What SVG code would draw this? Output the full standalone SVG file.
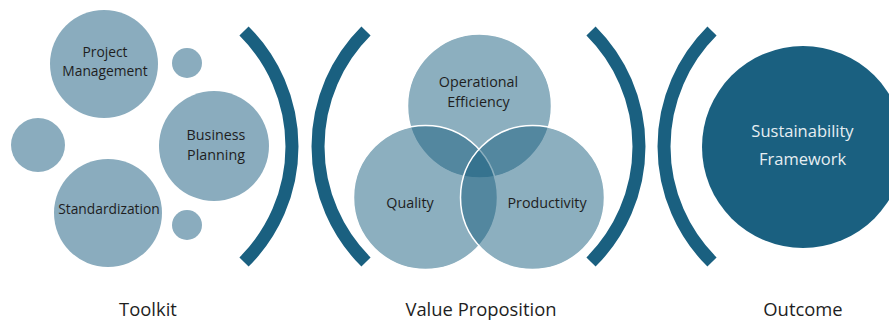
<svg xmlns="http://www.w3.org/2000/svg" width="889" height="320" viewBox="0 0 889 320">
<style>
.light{fill:#8AACBE}
.venn{fill:#1A5F80;fill-opacity:0.5;stroke:#FFFFFF;stroke-width:1.5}
.bracket{fill:none;stroke:#1A6080;stroke-width:13}
.lbl{font-family:"Open Sans","Liberation Sans",sans-serif;font-size:14.3px;fill:#1E1E1E;text-anchor:middle}
.sm{font-size:13.8px}
.big{font-family:"Open Sans","Liberation Sans",sans-serif;font-size:16.5px;fill:#E6EEF2;text-anchor:middle}
.foot{font-family:"Open Sans","Liberation Sans",sans-serif;font-size:18.4px;fill:#1E1E1E;text-anchor:middle}
</style>
<rect width="889" height="320" fill="#FFFFFF"/>
<g id="toolkit">
  <g id="project-management"><circle class="light" cx="104" cy="64" r="54"/><text class="lbl sm" x="105" y="57">Project</text><text class="lbl sm" x="105" y="76">Management</text></g>
  <g id="dot-top"><circle class="light" cx="187" cy="63" r="15"/></g>
  <g id="dot-left"><circle class="light" cx="38" cy="145" r="27"/></g>
  <g id="business-planning"><circle class="light" cx="214" cy="146" r="55"/><text class="lbl" x="216" y="140">Business</text><text class="lbl" x="216" y="160">Planning</text></g>
  <g id="standardization"><circle class="light" cx="108" cy="213" r="54"/><text class="lbl sm" x="109" y="214">Standardization</text></g>
  <g id="dot-bottom"><circle class="light" cx="187" cy="225" r="15"/></g>
</g>
<g id="connectors">
  <path class="bracket" d="M244 31 A163 163 0 0 1 244 262"/>
  <path class="bracket" d="M366 31 A163 163 0 0 0 366 262"/>
  <path class="bracket" d="M591 31 A163 163 0 0 1 591 262"/>
  <path class="bracket" d="M712 31 A163 163 0 0 0 712 262"/>
</g>
<g id="value-proposition">
  <g id="operational-efficiency"><circle class="venn" cx="479.5" cy="106" r="72"/></g>
  <g id="quality"><circle class="venn" cx="425.5" cy="197.5" r="72"/></g>
  <g id="productivity"><circle class="venn" cx="532.5" cy="197.5" r="72"/></g>
  <text class="lbl" x="478.5" y="87">Operational</text>
  <text class="lbl" x="478.5" y="107">Efficiency</text>
  <text class="lbl" x="410" y="208">Quality</text>
  <text class="lbl" x="547" y="208">Productivity</text>
</g>
<g id="outcome">
  <circle cx="803" cy="147" r="101" fill="#1A6080"/>
  <text class="big" x="802.5" y="137">Sustainability</text>
  <text class="big" x="802.5" y="165">Framework</text>
</g>
<g id="footer">
  <text class="foot" x="148" y="316">Toolkit</text>
  <text class="foot" x="481" y="316">Value Proposition</text>
  <text class="foot" x="803" y="316">Outcome</text>
</g>
</svg>
